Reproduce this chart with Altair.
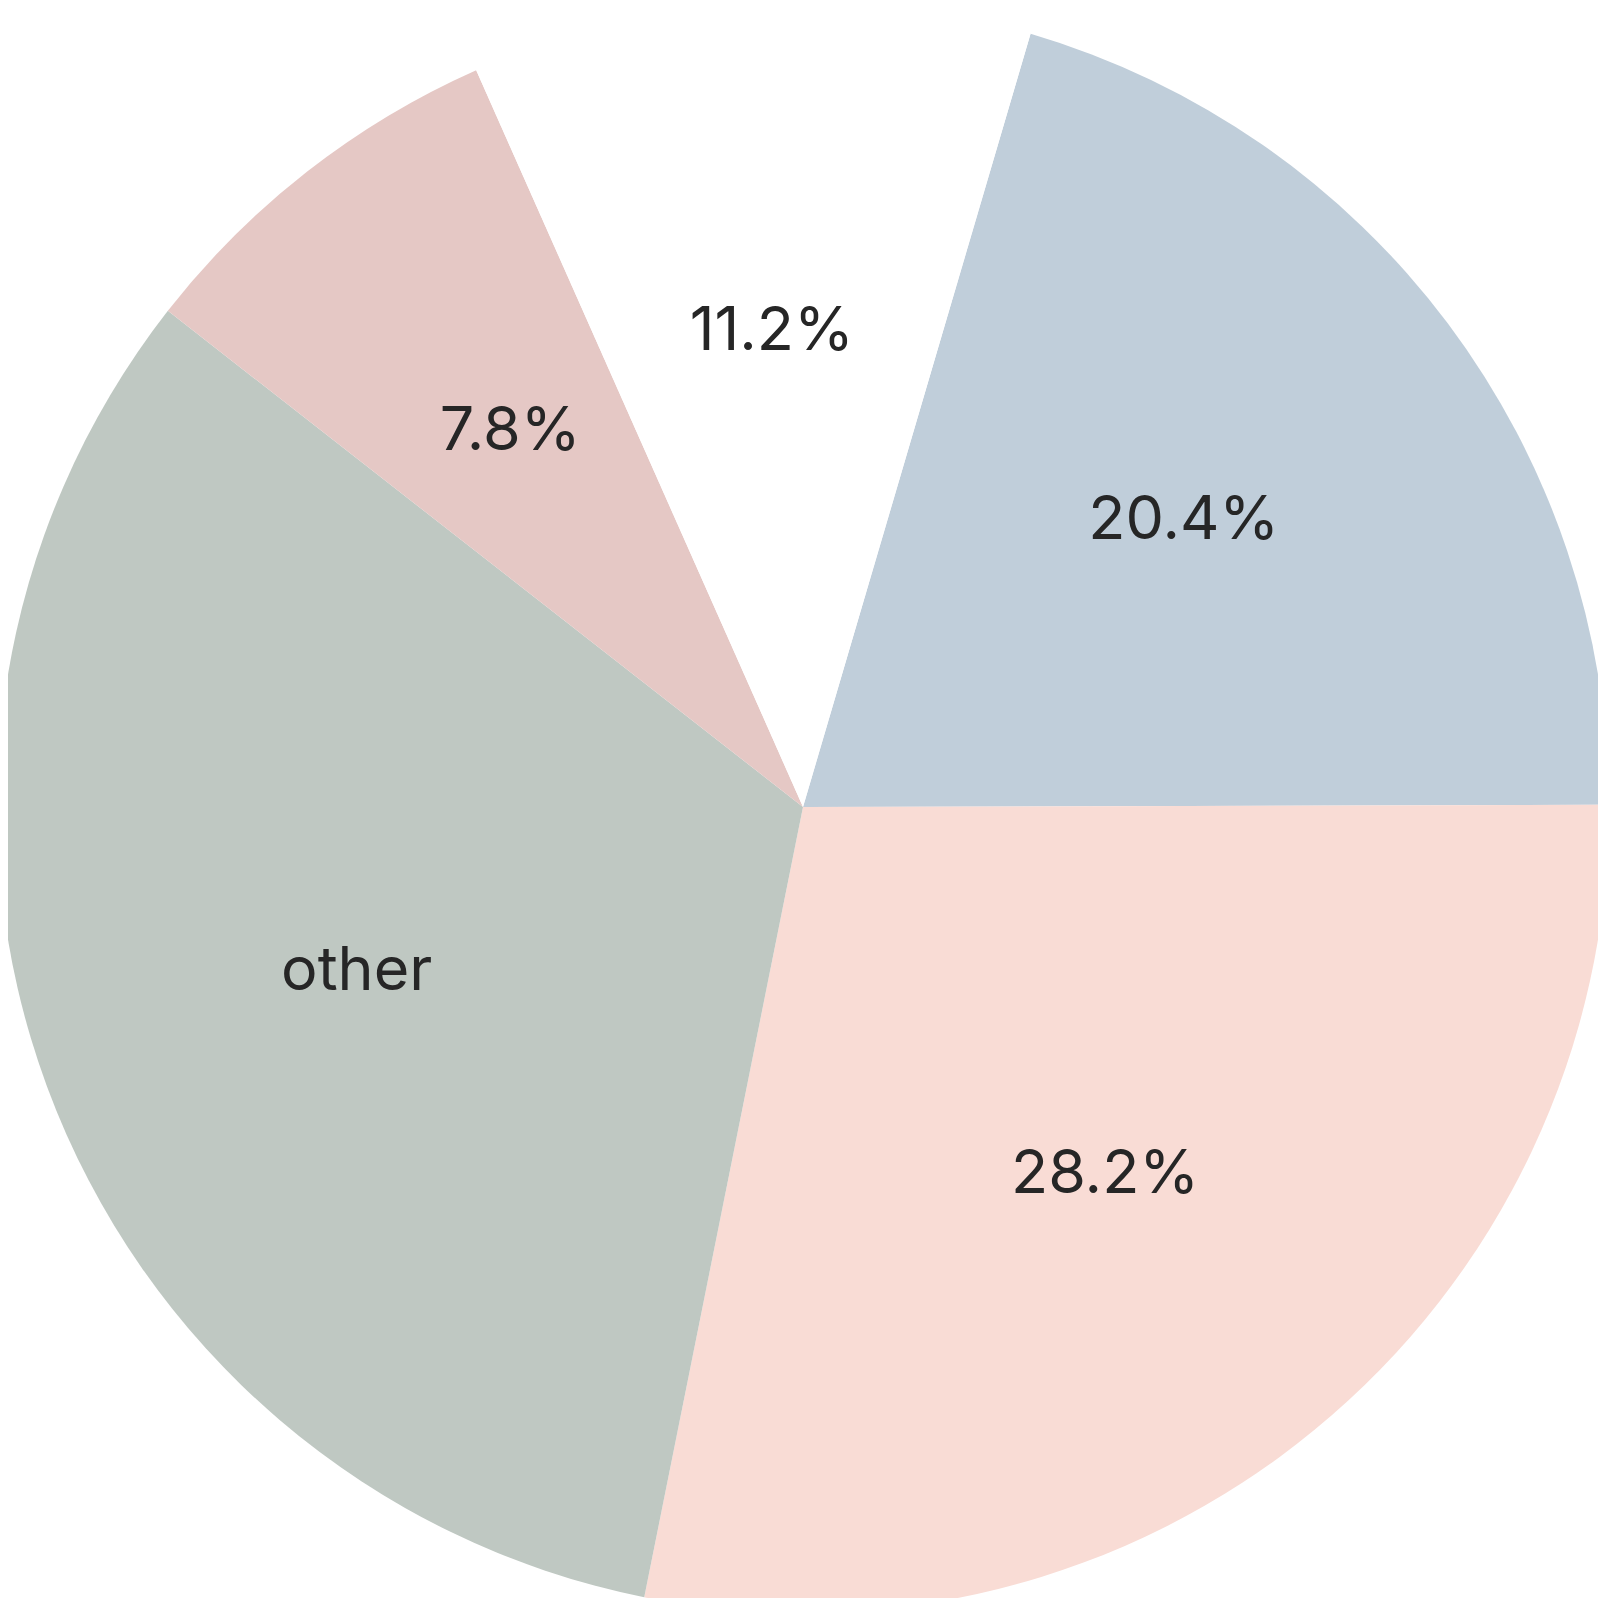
import math
import altair as alt
import pandas as pd

categories = ["a", "b", "other", "d", "e"]
values = [20.4, 28.2, 32.4, 7.8, 11.2]
labels = ["20.4%", "28.2%", "other", "7.8%", "11.2%"]
colors = ["#c0ceda", "#f9dcd5", "#bfc8c2", "#e5c8c5", "#ffffff"]

df = pd.DataFrame({
    "cat": categories,
    "value": values,
    "label": labels,
    "idx": list(range(len(categories))),
})

start = math.radians(16.4)
theta_scale = alt.Scale(range=[start, start + 2 * math.pi])

cx, cy = 795, 799

base = alt.Chart(df).encode(
    theta=alt.Theta("value:Q", stack=True, scale=theta_scale),
    order=alt.Order("idx:Q"),
)

arcs = base.mark_arc(outerRadius=806, stroke=None).encode(
    color=alt.Color("cat:N", scale=alt.Scale(domain=categories, range=colors), legend=None),
    x=alt.value(cx),
    y=alt.value(cy),
)

texts = base.mark_text(
    radius=476, font="Inter", fontSize=61, color="#262626",
    align="center", baseline="middle",
).encode(
    text="label:N",
    x=alt.value(cx),
    y=alt.value(cy),
)

chart = (arcs + texts).properties(
    width=1590, height=1590, padding=0, autosize="none"
).configure_view(stroke=None)

chart.save("out.html", embed_options={"renderer": "svg", "actions": False})
